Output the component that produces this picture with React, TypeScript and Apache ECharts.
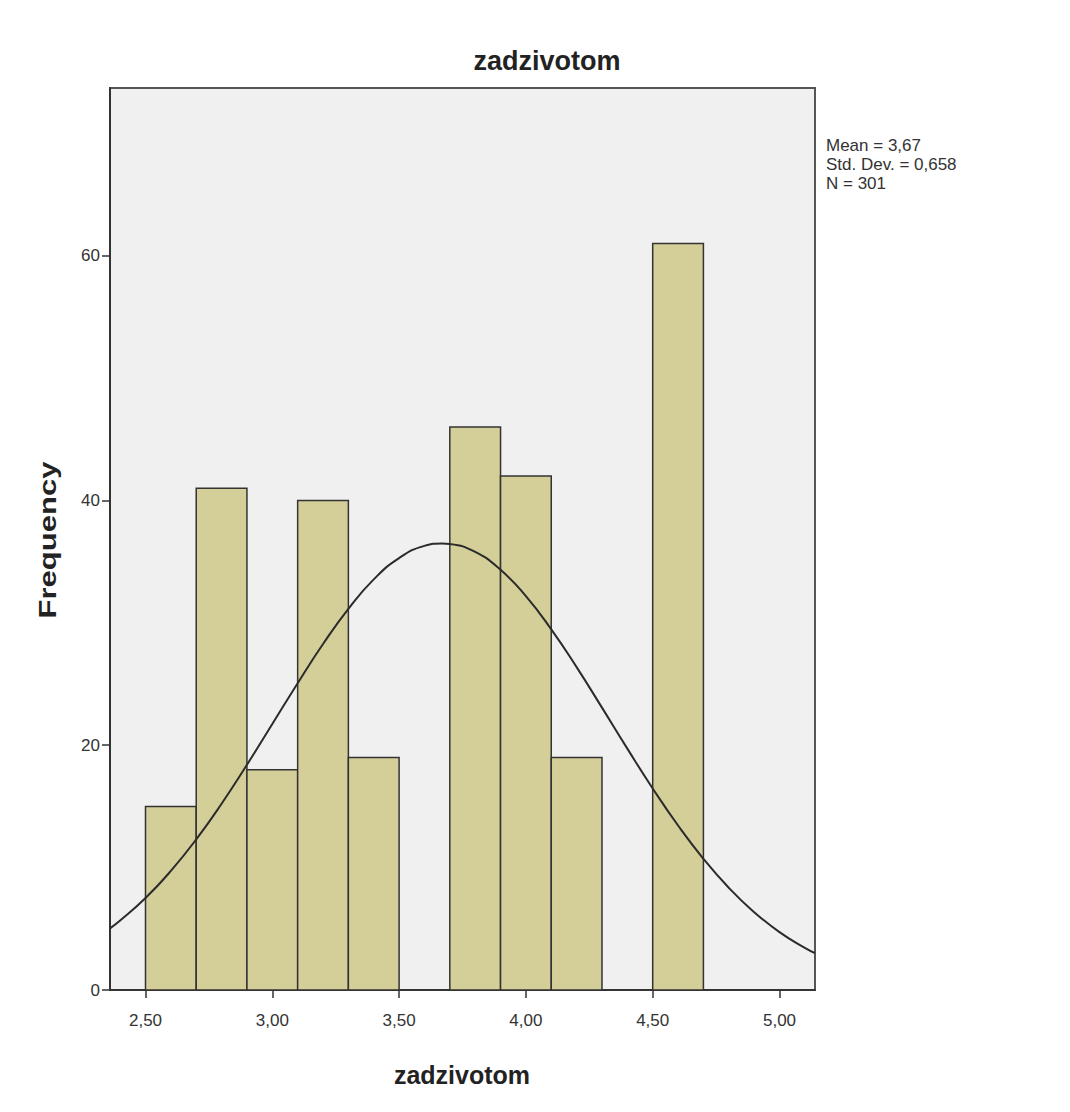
import React, { useEffect, useRef } from "react";
import * as echarts from "echarts";

// Histogram bins (lower edges), bin width and frequencies
const binStarts = [2.5, 2.7, 2.9, 3.1, 3.3, 3.7, 3.9, 4.1, 4.5];
const binWidth = 0.2;
const frequencies = [15, 41, 18, 40, 19, 46, 42, 19, 61];

// Fitted normal curve
const curveX = [2.36, 2.4, 2.5, 2.6, 2.7, 2.8, 2.9, 3.0, 3.1, 3.2, 3.3, 3.4, 3.5, 3.6, 3.67, 3.7, 3.8, 3.9, 4.0, 4.1, 4.2, 4.3, 4.4, 4.5, 4.6, 4.7, 4.8, 4.9, 5.0, 5.1, 5.14];
const curveY = [5.03, 5.67, 7.51, 9.73, 12.31, 15.22, 18.4, 21.73, 25.07, 28.27, 31.15, 33.55, 35.29, 36.29, 36.49, 36.45, 35.79, 34.33, 32.18, 29.47, 26.38, 23.07, 19.72, 16.47, 13.44, 10.72, 8.35, 6.36, 4.73, 3.44, 3.01];

const xTicks = [2.5, 3.0, 3.5, 4.0, 4.5, 5.0];
const yTicks = [0, 20, 40, 60];
const titleText = "zadzivotom";
const xName = "zadzivotom";
const yName = "Frequency";
const statsLines = ["Mean = 3,67", "Std. Dev. = 0,658", "N = 301"];

const FONT = "'Liberation Sans', Arial, 'DejaVu Sans', sans-serif";

export default function App() {
  const ref = useRef<HTMLDivElement>(null);
  useEffect(() => {
    if (!ref.current) return;
    const chart = echarts.init(ref.current, null, { renderer: "svg" });
    const option: any = {
      animation: false,
      backgroundColor: "#ffffff",
      grid: {
        left: 110,
        top: 88,
        right: 255,
        bottom: 122,
        show: true,
        backgroundColor: "#f0f0f0",
        borderColor: "#555555",
        borderWidth: 2,
      },
      xAxis: {
        type: "value",
        min: 2.36,
        max: 5.14,
        axisLine: { show: true, lineStyle: { color: "#333333", width: 2 } },
        axisTick: {
          show: true,
          length: 8,
          customValues: xTicks,
          lineStyle: { color: "#333333", width: 1.5 },
        },
        axisLabel: {
          customValues: xTicks,
          formatter: (v: number) => v.toFixed(2).replace(".", ","),
          color: "#333333",
          fontSize: 17,
          fontFamily: FONT,
          margin: 22,
        },
        splitLine: { show: false },
      },
      yAxis: {
        type: "value",
        min: 0,
        max: 73.7,
        axisLine: { show: true, lineStyle: { color: "#333333", width: 2 } },
        axisTick: {
          show: true,
          length: 8,
          customValues: yTicks,
          lineStyle: { color: "#333333", width: 1.5 },
        },
        axisLabel: {
          customValues: yTicks,
          color: "#333333",
          fontSize: 17,
          fontFamily: FONT,
          margin: 10,
        },
        splitLine: { show: false },
      },
      series: [
        {
          type: "custom",
          data: binStarts.map((s, i) => [s, s + binWidth, frequencies[i]]),
          encode: { x: [0, 1], y: 2 },
          renderItem: (params: any, api: any) => {
            const x0 = api.value(0);
            const x1 = api.value(1);
            const y = api.value(2);
            const p0 = api.coord([x0, y]);
            const p1 = api.coord([x1, 0]);
            return {
              type: "rect",
              shape: { x: p0[0], y: p0[1], width: p1[0] - p0[0], height: p1[1] - p0[1] },
              style: { fill: "#d4cf98", stroke: "#333333", lineWidth: 1.5 },
            };
          },
          z: 2,
        },
        {
          type: "line",
          data: curveX.map((x, i) => [x, curveY[i]]),
          smooth: true,
          showSymbol: false,
          symbol: "none",
          lineStyle: { color: "#2b2b2b", width: 2 },
          z: 3,
        },
      ],
      graphic: [
        {
          type: "text",
          x: 547,
          y: 61,
          style: {
            text: titleText,
            font: `bold 27px ${FONT}`,
            fill: "#222222",
            textAlign: "center",
            textVerticalAlign: "middle",
          },
        },
        {
          type: "text",
          x: 462,
          y: 1075,
          style: {
            text: xName,
            font: `bold 25px ${FONT}`,
            fill: "#222222",
            textAlign: "center",
            textVerticalAlign: "middle",
          },
        },
        {
          type: "text",
          x: 48,
          y: 540,
          rotation: Math.PI / 2,
          scaleX: 1.35,
          style: {
            text: yName,
            font: `bold 23px ${FONT}`,
            fill: "#222222",
            textAlign: "center",
            textVerticalAlign: "middle",
          },
        },
        {
          type: "text",
          x: 826,
          y: 136,
          style: {
            text: statsLines.join("\n"),
            font: `17px ${FONT}`,
            lineHeight: 19,
            fill: "#333333",
            textAlign: "left",
            textVerticalAlign: "top",
          },
        },
      ],
    };
    chart.setOption(option);
    return () => chart.dispose();
  }, []);
  return (
    <div
      ref={ref}
      style={{ position: "absolute", left: 0, top: 0, width: 1070, height: 1112 }}
    />
  );
}
